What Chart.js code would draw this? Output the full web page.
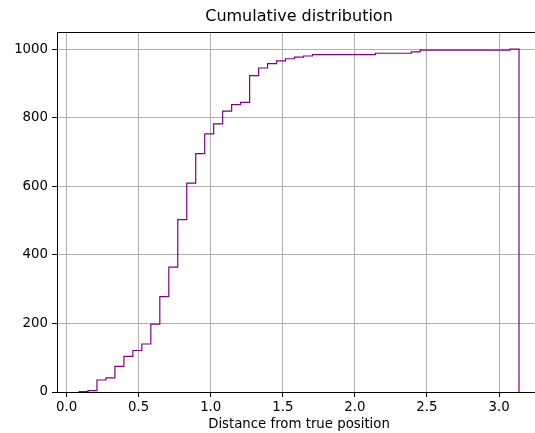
<!DOCTYPE html>
<html>
<head>
<meta charset="utf-8">
<script src="https://cdn.jsdelivr.net/npm/chart.js@4"></script>
<style>
  html, body { margin: 0; padding: 0; background: #fff; overflow: hidden; }
  /* figure is a bit wider than the window, the right spine falls off the edge like in the original */
  #wrap { width: 548px; height: 433px; }
</style>
</head>
<body>
<div id="wrap"><canvas id="cdf"></canvas></div>
<script>
// histogram bin edges (distance from true position)
const binEdges = [0.086, 0.1483, 0.2106, 0.2729, 0.3352, 0.3975, 0.4598, 0.5221, 0.5844, 0.6467,
  0.709, 0.7713, 0.8336, 0.8959, 0.9582, 1.0205, 1.0828, 1.1451, 1.2074, 1.2697,
  1.332, 1.3943, 1.4566, 1.5189, 1.5812, 1.6435, 1.7058, 1.7681, 1.8304, 1.8927,
  1.955, 2.0173, 2.0796, 2.1419, 2.2042, 2.2665, 2.3288, 2.3911, 2.4534, 2.5157,
  2.578, 2.6403, 2.7026, 2.7649, 2.8272, 2.8895, 2.9518, 3.0141, 3.0764, 3.1387];

// cumulative count for each bin
const cumCounts = [1, 4, 35, 41, 75, 104, 121, 140, 198, 278,
  364, 503, 609, 695, 753, 782, 819, 838, 845, 923,
  945, 958, 966, 972, 977, 980, 984, 984, 984, 984,
  984, 984, 984, 988, 988, 988, 988, 992, 997, 997,
  997, 997, 997, 997, 997, 997, 997, 997, 1000];

const xTicks = [0, 0.5, 1, 1.5, 2, 2.5, 3];
const yTicks = [0, 200, 400, 600, 800, 1000];

// outline of a step histogram: up at first edge, down at last edge
const points = [{x: binEdges[0], y: 0}];
cumCounts.forEach((c, i) => points.push({x: binEdges[i], y: c}));
points.push({x: binEdges[binEdges.length - 1], y: 0});

// matplotlib style box around the axes
const frame = {
  id: 'frame',
  afterDatasetsDraw(chart) {
    const {ctx, chartArea: a} = chart;
    ctx.save();
    ctx.strokeStyle = '#000';
    ctx.lineWidth = 1;
    ctx.strokeRect(Math.round(a.left) + 0.5, Math.round(a.top) + 0.5,
      Math.round(a.right - a.left), Math.round(a.bottom - a.top));
    ctx.restore();
  }
};

const font = {family: 'DejaVu Sans', size: 13.3};

new Chart(document.getElementById('cdf'), {
  type: 'line',
  data: {
    datasets: [{
      data: points,
      borderColor: 'purple',
      borderWidth: 1.2,
      pointRadius: 0,
      fill: false,
      stepped: true
    }]
  },
  options: {
    responsive: true,
    maintainAspectRatio: false,
    animation: false,
    layout: { padding: { right: 7, left: 0, top: 0, bottom: 0 } },
    plugins: {
      legend: { display: false },
      tooltip: { enabled: false },
      title: {
        display: true,
        fullSize: false,
        text: 'Cumulative distribution',
        color: '#000',
        font: {family: 'DejaVu Sans', size: 16, weight: 'normal'},
        padding: { top: 7, bottom: 5.8 }
      }
    },
    scales: {
      x: {
        type: 'linear',
        min: -0.0666,
        max: 3.2913,
        afterBuildTicks: s => { s.ticks = xTicks.map(v => ({value: v})); },
        afterFit: s => { s.height = 41; },
        grid: { color: '#b0b0b0', lineWidth: 1, tickColor: '#000', tickLength: 5 },
        border: { display: true, color: '#000', width: 1 },
        ticks: {
          color: '#000',
          font: font,
          padding: 3,
          maxRotation: 0,
          callback: v => v.toFixed(1)
        },
        title: {
          display: true,
          text: 'Distance from true position',
          color: '#000',
          font: font,
          padding: { top: 0, bottom: 0 }
        }
      },
      y: {
        min: 0,
        max: 1050,
        afterBuildTicks: s => { s.ticks = yTicks.map(v => ({value: v})); },
        afterFit: s => { s.width = 57; },
        grid: { color: '#b0b0b0', lineWidth: 1, tickColor: '#000', tickLength: 5 },
        border: { display: true, color: '#000', width: 1 },
        ticks: {
          color: '#000',
          font: font,
          padding: 4,
          callback: v => String(v)
        }
      }
    }
  },
  plugins: [frame]
});
</script>
</body>
</html>
